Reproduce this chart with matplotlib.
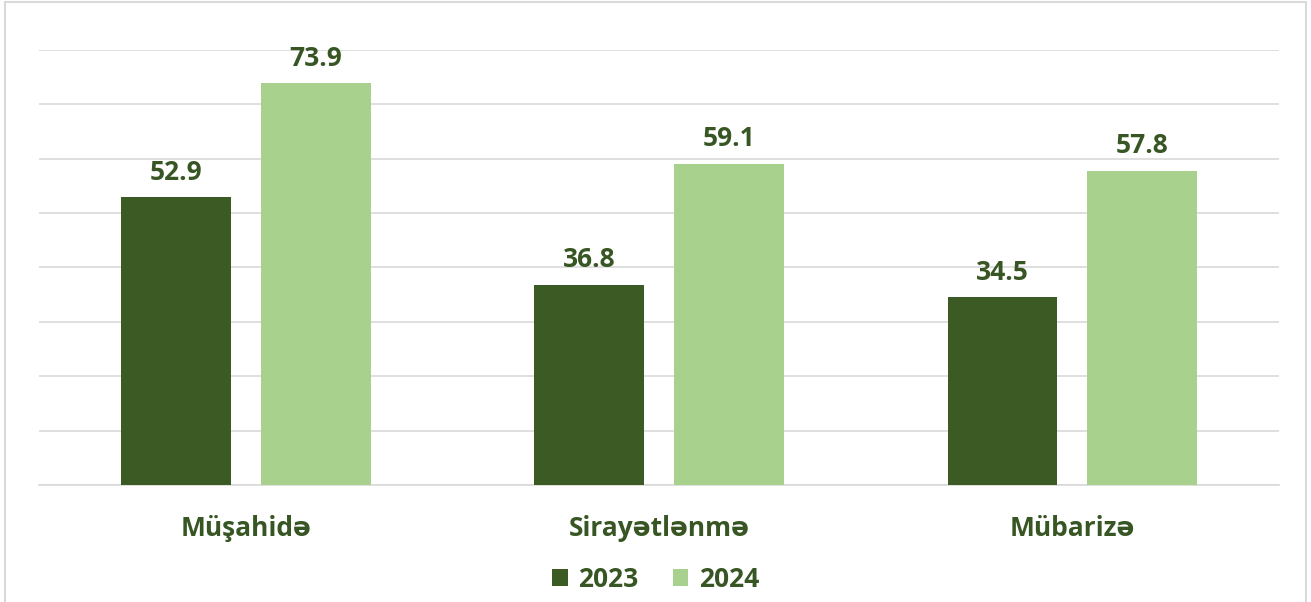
import matplotlib
matplotlib.use("Agg")
import matplotlib.pyplot as plt
from matplotlib.patches import Rectangle
import numpy as np

plt.rcParams["font.family"] = ["Open Sans", "DejaVu Sans"]

# ── data ──
categories = ["Müşahidə", "Sirayətlənmə", "Mübarizə"]
years = ["2023", "2024"]
vals_2023 = [52.9, 36.8, 34.5]
vals_2024 = [73.9, 59.1, 57.8]

DARK = "#3B5A24"
LIGHT = "#A9D18E"
TXT = "#375623"
GRID = "#D9D9D9"
FS = 19

fig = plt.figure(figsize=(13.11, 6.02), dpi=100)
fig.patch.set_facecolor("white")
ax = fig.add_axes([0.0298, 0.1944, 0.9458, 0.7225])

x = np.arange(len(categories))
w = 0.266
off = 0.169
b1 = ax.bar(x - off, vals_2023, w, color=DARK, label=years[0], zorder=3)
b2 = ax.bar(x + off, vals_2024, w, color=LIGHT, label=years[1], zorder=3)

for bars in (b1, b2):
    for r in bars:
        ax.text(r.get_x() + r.get_width() / 2, r.get_height() + 2.1,
                f"{r.get_height():.1f}", ha="center", va="bottom",
                fontsize=FS, fontweight="bold", color=TXT)

ax.set_xlim(-0.5, 2.5)
ax.set_ylim(0, 80)
ax.set_yticks(np.arange(0, 81, 10))
ax.yaxis.grid(True, color=GRID, lw=1.2, zorder=0)
ax.tick_params(axis="y", left=False, labelleft=False)
ax.tick_params(axis="x", bottom=False, pad=18)
ax.set_xticks(x)
ax.set_xticklabels(categories, fontsize=FS, fontweight="bold", color=TXT)
for s in ["top", "right", "left"]:
    ax.spines[s].set_visible(False)
ax.spines["bottom"].set_color(GRID)
ax.spines["bottom"].set_linewidth(1.2)

leg = fig.legend(handles=[b1, b2], labels=years, loc="center",
                 bbox_to_anchor=(0.5, 0.038), ncol=2, frameon=False,
                 handlelength=0.6, handleheight=0.6, handletextpad=0.4,
                 columnspacing=1.3, prop={"size": FS, "weight": "bold"})
for t in leg.get_texts():
    t.set_color(TXT)

# outer border
fig.patches.append(Rectangle((0.004, -0.01), 0.992, 1.007, transform=fig.transFigure,
                             fill=False, edgecolor=GRID, lw=1.5))

plt.savefig("out.png", dpi=100, facecolor="white")
